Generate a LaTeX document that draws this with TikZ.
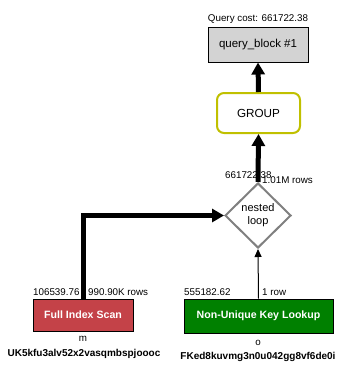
\documentclass[tikz,border=0pt]{standalone}
\usepackage{fontspec}
\setmainfont{Liberation Sans}
\usetikzlibrary{shapes.geometric,arrows.meta}
\definecolor{qbgray}{RGB}{211,211,211}
\definecolor{grpyellow}{RGB}{192,192,0}
\definecolor{fisred}{RGB}{196,66,72}
\definecolor{nukgreen}{RGB}{0,128,0}
\definecolor{nlgray}{RGB}{128,128,128}
\tikzset{
  small/.style={font=\fontsize{9.8}{11}\selectfont, inner sep=0pt},
  keyname/.style={font=\bfseries\fontsize{10}{12}\selectfont, inner sep=0pt},
  opbox/.style={draw=black, line width=1pt, inner sep=0pt, font=\bfseries\fontsize{10.6}{12}\selectfont, text=white},
  thickarrow/.style={line width=5pt, -{Triangle[length=12pt,width=13pt]}},
  thinarrow/.style={line width=1pt, -{Triangle[length=8pt,width=7pt]}},
}
\begin{document}
\begin{tikzpicture}[x=1pt,y=-1pt]
\useasboundingbox[fill=white] (0,0) rectangle (354,372);
% boxes
\node[draw=black, line width=1pt, fill=qbgray, minimum width=100pt, minimum height=35pt, inner sep=0pt, font=\fontsize{11.5}{13}\selectfont] (qb) at (258,44.5) {query\_block \#1};
\node[small, anchor=base] (qcost) at (258,21) {Query cost: 661722.38};
\node[draw=grpyellow, line width=2pt, fill=white, rounded corners=7pt, minimum width=83pt, minimum height=40pt, inner sep=0pt, font=\fontsize{11.7}{13}\selectfont] (grp) at (258.5,113) {GROUP};
\node[diamond, draw=nlgray, line width=2pt, fill=white, minimum width=66pt, minimum height=65pt, inner sep=0pt, align=center, font=\fontsize{11}{13}\selectfont] (nl) at (258,215.5) {nested\\loop};
\node[opbox, fill=fisred, minimum width=100pt, minimum height=32pt] (fis) at (83,315) {Full Index Scan};
\node[opbox, fill=nukgreen, minimum width=149pt, minimum height=34pt] (nukl) at (258.5,316) {Non-Unique Key Lookup};
% labels
\node[small, anchor=base west] (fiscost) at (33,295) {106539.76};
\node[small, anchor=base west] (fisrows) at (88,295) {990.90K rows};
\node[small, anchor=base west] (nukcost) at (184,295) {555182.62};
\node[small, anchor=base west] (nukrows) at (262,295) {1 row};
\node[small, anchor=base west] (nlcost) at (225,178) {661722.38};
\node[small, anchor=base west] (nlrows) at (262,183) {1.01M rows};
\node[small, anchor=base] (fistab) at (83,341) {m};
\node[keyname, anchor=base] (fiskey) at (84,356) {UK5kfu3alv52x2vasqmbspjoooc};
\node[small, anchor=base] (nuktab) at (258,345) {o};
\node[keyname, anchor=base] (nukkey) at (258,359) {FKed8kuvmg3n0u042gg8vf6de0i};
% connectors
\draw[thickarrow] (fis.north) |- (nl.west);
\draw[thinarrow] (nukl.north) -- (nl.south);
\draw[thickarrow] (nl.north) -- (grp.south);
\draw[thickarrow] (grp.north) -- (qb.south);
\end{tikzpicture}
\end{document}
